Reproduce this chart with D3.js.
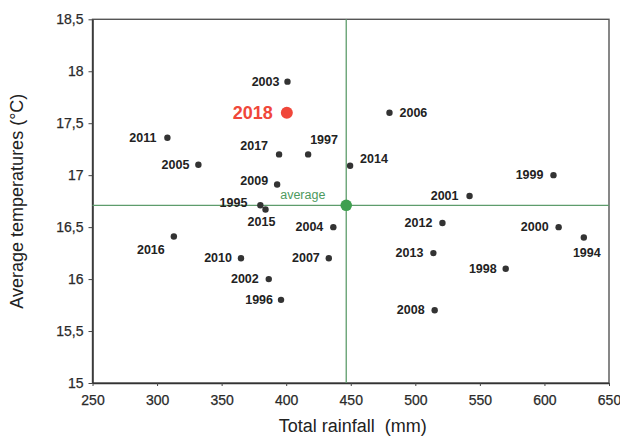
<!DOCTYPE html>
<html><head><meta charset="utf-8">
<script src="https://cdn.jsdelivr.net/npm/d3@7"></script>
<style>
html,body{margin:0;padding:0;background:#fff;}
svg{display:block;font-family:"Liberation Sans",Arial,sans-serif;}
</style></head>
<body><svg id="c" width="620" height="439"></svg>
<script>
// ---- data ----
const years = ["1994","1995","1996","1997","1998","1999","2000","2001","2002","2003","2004","2005","2006","2007","2008","2009","2010","2011","2012","2013","2014","2015","2016","2017","2018"];
const rainfall = [630.5,380,396,417,570,607,611,542,386.5,401,436.5,332,480,433,515,393,365,308,521,514,449.5,384,313,394.5,400.5];
const temperature = [16.4,16.71,15.8,17.2,16.1,17.0,16.5,16.8,16.0,17.9,16.5,17.1,17.6,16.2,15.7,16.91,16.2,17.36,16.54,16.25,17.09,16.67,16.41,17.2,17.6];
const averageRain = 446.5;
const averageTemp = 16.71;
const highlightYear = "2018";
const xTicks = [250,300,350,400,450,500,550,600,650];
const yTicks = [15,15.5,16,16.5,17,17.5,18,18.5];
const xTitle = "Total rainfall  (mm)";
const yTitle = "Average temperatures (°C)";
const avgLabel = "average";

// label placement (style config): [dx, dy, anchor]
const labelPlace = {
  "2003":[-8,0,"end"],"2018":[-14,0,"end"],"2011":[-11,0,"end"],"2005":[-9,0,"end"],
  "2017":[-11,-8,"end"],"1997":[2,-14,"start"],"2009":[-9,-4,"end"],"2014":[10,-7,"start"],
  "2006":[10,0,"start"],"1999":[-10,0,"end"],"2001":[-11,0,"end"],"1995":[-13,-2,"end"],
  "2015":[-4,13,"middle"],"2004":[-10,0,"end"],"2016":[-23,14,"middle"],"2010":[-9,0,"end"],
  "2007":[-9,0,"end"],"2002":[-10,0,"end"],"1996":[-8,0,"end"],"2012":[-10,0,"end"],
  "2000":[-10,0,"end"],"1994":[3,15,"middle"],"2013":[-10,0,"end"],"1998":[-9,0,"end"],"2008":[-10,0,"end"]
};

const svg = d3.select("#c");
const L = 92.5, R = 609, T = 19.3, B = 383;
const x = d3.scaleLinear().domain([250,650]).range([L,R]);
const y = d3.scaleLinear().domain([15,18.5]).range([B,T]);

// frame
svg.append("rect").attr("x",L).attr("y",T).attr("width",R-L).attr("height",B-T)
  .attr("fill","none").attr("stroke","#555").attr("stroke-width",1.4);

// axes
const xAxis = svg.append("g").attr("transform",`translate(0,${B})`)
  .call(d3.axisBottom(x).tickValues(xTicks).tickSize(3).tickSizeOuter(0).tickFormat(d3.format("d")));
const yAxis = svg.append("g").attr("transform",`translate(${L},0)`)
  .call(d3.axisLeft(y).tickValues(yTicks).tickSize(4).tickSizeOuter(0).tickFormat(d=>String(d).replace(".",",")));
[xAxis,yAxis].forEach(g=>{
  g.select(".domain").attr("stroke","#333").attr("stroke-width",1.5);
  g.selectAll(".tick line").attr("stroke","#444");
  g.selectAll(".tick text").attr("fill","#2a2a2a").style("font-size","14px")
    .attr("stroke","#2a2a2a").attr("stroke-width",0.25);
});
xAxis.selectAll(".tick text").attr("dy","0").attr("y",17).attr("dominant-baseline","central");
yAxis.selectAll(".tick text").attr("x",-9);

// titles
svg.append("text").attr("x",(L+R)/2+2).attr("y",426).attr("text-anchor","middle")
  .attr("dominant-baseline","central").style("font-size","18px").style("white-space","pre")
  .attr("fill","#222").attr("xml:space","preserve").text(xTitle);
svg.append("text").attr("transform",`translate(17,${(T+B)/2}) rotate(-90)`).attr("text-anchor","middle")
  .attr("dominant-baseline","central").style("font-size","18px").attr("fill","#222").text(yTitle);

// average lines
svg.append("line").attr("x1",x(averageRain)).attr("x2",x(averageRain)).attr("y1",T).attr("y2",B)
  .attr("stroke","#5e9c6c").attr("stroke-width",1.3);
svg.append("line").attr("x1",L).attr("x2",R).attr("y1",y(averageTemp)).attr("y2",y(averageTemp))
  .attr("stroke","#5e9c6c").attr("stroke-width",1.3);

const pts = years.map((yr,i)=>({year:yr, r:rainfall[i], t:temperature[i]}));

// points
svg.append("g").selectAll("circle").data(pts).join("circle")
  .attr("cx",d=>x(d.r)).attr("cy",d=>y(d.t))
  .attr("r",d=>d.year===highlightYear?6:3.2)
  .attr("fill",d=>d.year===highlightYear?"#f0473a":"#333");

// labels
svg.append("g").selectAll("text").data(pts).join("text")
  .attr("x",d=>x(d.r)+labelPlace[d.year][0])
  .attr("y",d=>y(d.t)+labelPlace[d.year][1])
  .attr("text-anchor",d=>labelPlace[d.year][2])
  .attr("dominant-baseline","central")
  .style("font-weight","bold")
  .style("font-size",d=>d.year===highlightYear?"18px":"12.5px")
  .attr("fill",d=>d.year===highlightYear?"#f0473a":"#222")
  .text(d=>d.year);

// average point
svg.append("circle").attr("cx",x(averageRain)).attr("cy",y(averageTemp)).attr("r",5.8).attr("fill","#3f9f4f");
svg.append("text").attr("x",x(averageRain)-66).attr("y",y(averageTemp)-10)
  .attr("dominant-baseline","central").style("font-size","12.5px").attr("fill","#4d9a5d").text(avgLabel);
</script></body></html>
